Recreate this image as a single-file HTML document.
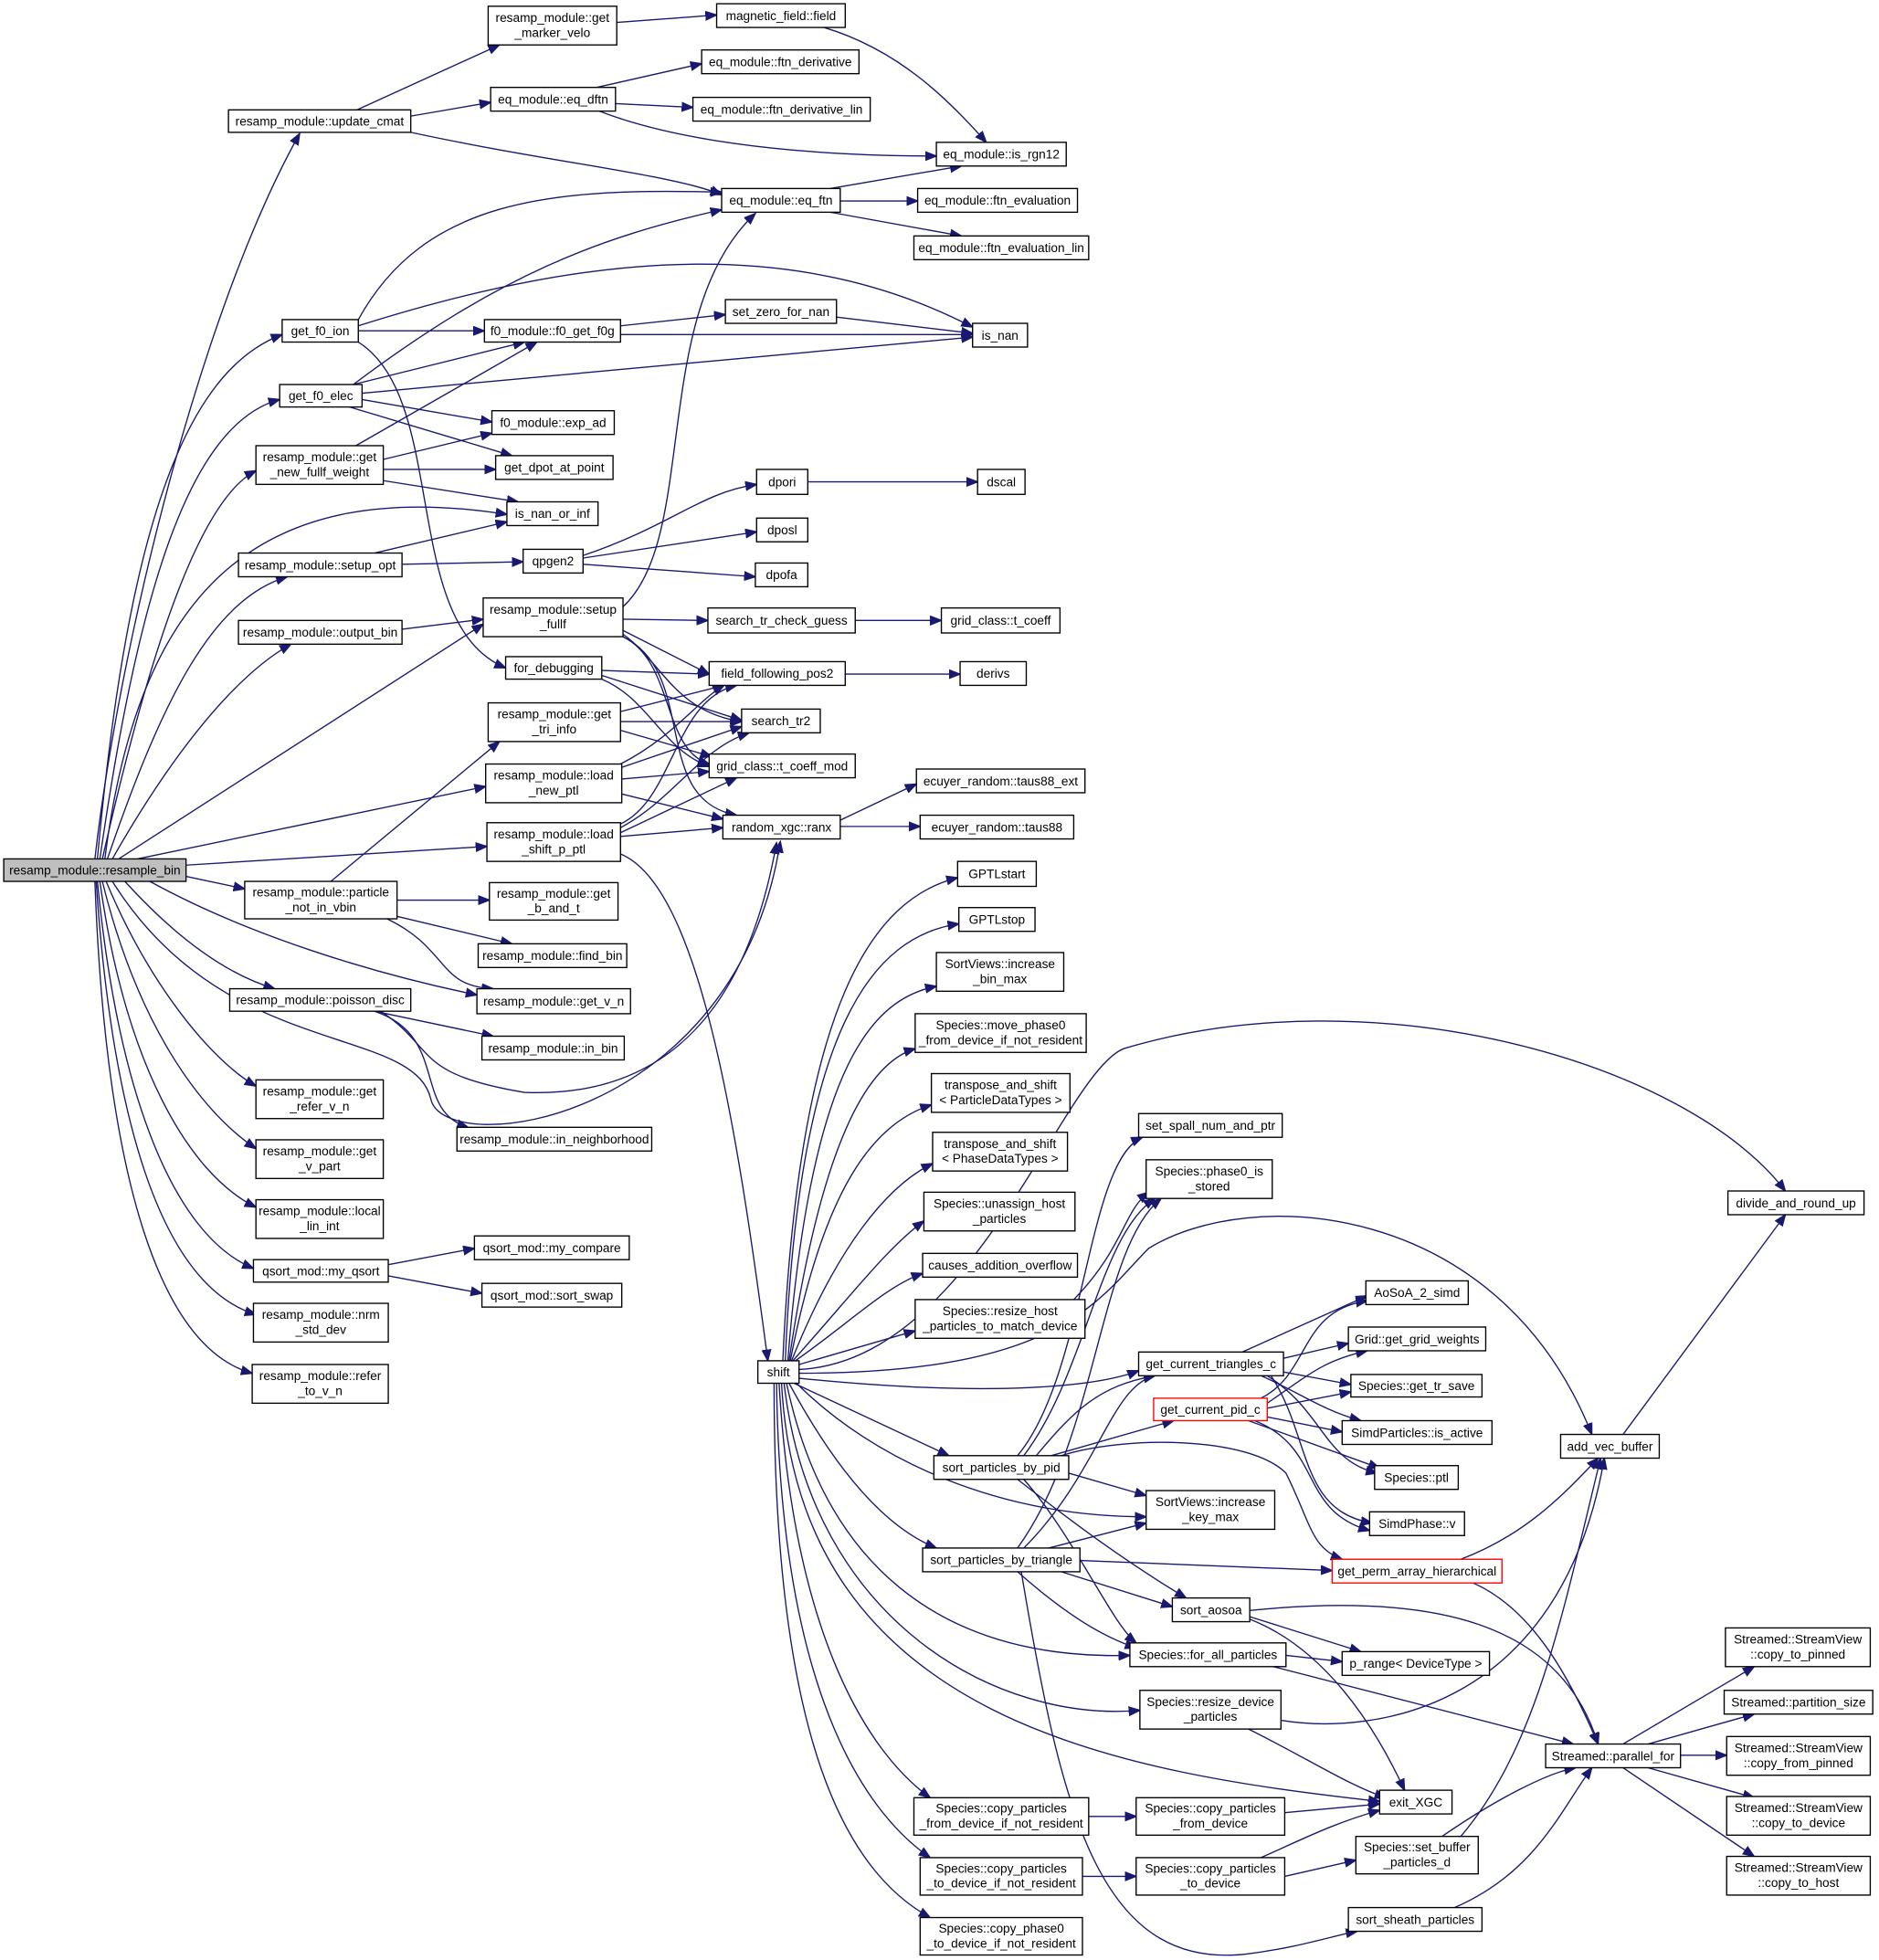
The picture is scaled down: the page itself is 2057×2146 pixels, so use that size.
<!DOCTYPE html>
<html><head><meta charset="utf-8"><style>
html,body{margin:0;padding:0;background:#fff;}
svg{display:block;}
text{font-family:"Liberation Sans",Arial,sans-serif;font-size:10px;fill:#000;text-anchor:middle;}
.n{fill:#fff;stroke:#000;stroke-width:1;}
.r{fill:#fff;stroke:#f00;stroke-width:1;}
.e path{fill:none;stroke:#191970;stroke-width:1;marker-end:url(#a);}
</style></head><body>
<svg width="2057" height="2146" viewBox="0 0 1505 1570" preserveAspectRatio="none" xmlns="http://www.w3.org/2000/svg">
<defs><marker id="a" markerUnits="userSpaceOnUse" markerWidth="10" markerHeight="8" refX="9" refY="4" orient="auto"><path d="M0,0.5 L9,4 L0,7.5 z" fill="#191970" stroke="#191970"/></marker></defs>
<g class="e">
<path d="M76,688 C95,520 160,250 240,107"/>
<path d="M78,688 C100,450 140,300 226,268"/>
<path d="M80,688 C110,480 150,340 224,320"/>
<path d="M82,688 C120,520 160,400 205,377"/>
<path d="M84,688 C110,480 200,380 406,412"/>
<path d="M86,688 C130,560 170,480 230,462"/>
<path d="M90,688 C140,600 190,540 233,516"/>
<path d="M95,688 L387,500"/>
<path d="M110,688 L389,630"/>
<path d="M149,693 L390,678"/>
<path d="M149,702 L196,712"/>
<path d="M120,706 C200,750 300,780 382,797"/>
<path d="M100,706 C140,750 180,780 220,792"/>
<path d="M85,706 C120,790 170,850 205,870"/>
<path d="M82,706 C110,820 160,890 205,920"/>
<path d="M80,706 C100,850 150,940 205,967"/>
<path d="M78,706 C95,880 140,990 203,1016"/>
<path d="M77,706 C90,900 130,1030 205,1053"/>
<path d="M76,706 C85,950 130,1080 202,1100"/>
<path d="M90,706 C180,850 330,820 345,880 C355,930 590,900 625,674"/>
<path d="M286,88 L400,36"/>
<path d="M329,93 L393,82"/>
<path d="M329,106 C440,130 540,140 578,156"/>
<path d="M494,18 L574,12"/>
<path d="M660,22 C720,40 760,80 790,114"/>
<path d="M478,70 L562,51"/>
<path d="M493,83 L555,86"/>
<path d="M480,89 C560,120 680,125 750,125"/>
<path d="M665,151 L770,133"/>
<path d="M673,161 L735,161"/>
<path d="M665,170 L770,189"/>
<path d="M287,256 C340,160 440,150 578,154"/>
<path d="M287,261 C480,200 640,190 779,262"/>
<path d="M287,265 L388,265"/>
<path d="M287,274 C360,320 320,500 405,535"/>
<path d="M283,308 C400,220 480,190 578,168"/>
<path d="M283,308 L420,274"/>
<path d="M290,315 L779,270"/>
<path d="M290,320 L394,338"/>
<path d="M280,326 L410,365"/>
<path d="M285,357 L430,274"/>
<path d="M307,368 L394,347"/>
<path d="M307,376 L397,376"/>
<path d="M307,385 L415,402"/>
<path d="M497,261 L581,252"/>
<path d="M497,268 L779,268"/>
<path d="M670,254 L779,267"/>
<path d="M300,443 L406,418"/>
<path d="M322,452 L419,450"/>
<path d="M467,445 C540,420 560,395 606,388"/>
<path d="M467,447 L606,426"/>
<path d="M467,452 L605,462"/>
<path d="M647,386 L783,386"/>
<path d="M322,504 L387,496"/>
<path d="M499,486 C560,430 520,250 605,171"/>
<path d="M499,496 L567,497"/>
<path d="M499,505 L568,540"/>
<path d="M499,508 C530,530 540,570 594,578"/>
<path d="M499,510 C540,530 530,600 568,612"/>
<path d="M499,510 C560,540 520,640 590,653"/>
<path d="M685,497 L754,497"/>
<path d="M482,537 L568,540"/>
<path d="M482,541 L594,577"/>
<path d="M482,544 C520,560 530,600 568,614"/>
<path d="M677,540 L769,540"/>
<path d="M497,570 L580,549"/>
<path d="M497,578 L594,578"/>
<path d="M497,585 L570,606"/>
<path d="M497,612 C540,590 560,560 580,549"/>
<path d="M497,615 L594,582"/>
<path d="M498,624 L568,618"/>
<path d="M498,636 L579,656"/>
<path d="M497,660 C540,640 540,560 590,549"/>
<path d="M497,663 C540,640 560,600 600,587"/>
<path d="M497,667 L590,623"/>
<path d="M497,670 L579,663"/>
<path d="M497,684 C560,710 590,900 615,1090"/>
<path d="M673,657 L734,628"/>
<path d="M673,662 L737,662"/>
<path d="M265,706 L400,594"/>
<path d="M318,721 L392,721"/>
<path d="M318,734 L410,756"/>
<path d="M310,736 C360,760 350,790 395,792"/>
<path d="M300,810 L395,830"/>
<path d="M300,810 C360,830 330,890 375,903"/>
<path d="M305,810 C350,840 330,860 420,875 C540,880 600,800 622,675"/>
<path d="M311,1013 L380,1000"/>
<path d="M311,1022 L386,1036"/>
<path d="M627,1090 C640,800 700,720 767,703"/>
<path d="M629,1090 C640,820 700,750 768,740"/>
<path d="M631,1090 C650,850 700,800 750,790"/>
<path d="M632,1090 C660,900 700,850 733,840"/>
<path d="M633,1090 C660,950 700,900 746,885"/>
<path d="M634,1090 C670,1000 710,950 747,932"/>
<path d="M635,1090 C680,1040 710,1000 740,978"/>
<path d="M637,1090 C680,1060 710,1030 739,1020"/>
<path d="M640,1093 L733,1066"/>
<path d="M640,1097 C780,1090 850,860 900,840 C1100,780 1350,850 1430,954"/>
<path d="M640,1100 C850,1100 880,1040 920,1000 C1000,950 1200,960 1275,1149"/>
<path d="M640,1104 C800,1120 880,1110 912,1098"/>
<path d="M636,1108 L760,1166"/>
<path d="M632,1108 C660,1160 700,1220 750,1240"/>
<path d="M638,1108 C700,1170 800,1215 918,1215"/>
<path d="M630,1108 C660,1250 750,1330 905,1326"/>
<path d="M628,1108 C650,1300 800,1380 913,1370"/>
<path d="M626,1108 C640,1380 900,1420 1105,1443"/>
<path d="M624,1108 C635,1300 690,1400 745,1440"/>
<path d="M622,1108 C625,1350 690,1450 745,1488"/>
<path d="M620,1108 C620,1400 680,1500 745,1536"/>
<path d="M860,1041 C900,1000 900,970 920,955"/>
<path d="M820,1166 C870,1100 880,990 925,960"/>
<path d="M815,1166 C870,1100 870,930 915,911"/>
<path d="M815,1240 C880,1150 880,1000 930,960"/>
<path d="M830,1166 C860,1130 880,1110 925,1102"/>
<path d="M842,1166 L940,1138"/>
<path d="M856,1180 L918,1198"/>
<path d="M850,1166 C900,1150 1000,1150 1030,1180 C1050,1220 1050,1240 1075,1249"/>
<path d="M815,1185 C860,1220 900,1250 950,1280"/>
<path d="M820,1185 C860,1230 890,1300 910,1316"/>
<path d="M820,1240 C880,1180 890,1110 925,1102"/>
<path d="M840,1240 L918,1220"/>
<path d="M865,1250 L1067,1258"/>
<path d="M850,1259 L939,1287"/>
<path d="M815,1259 C850,1290 880,1310 910,1320"/>
<path d="M818,1259 C850,1450 880,1580 1000,1565 C1040,1560 1070,1550 1087,1547"/>
<path d="M995,1083 L1095,1038"/>
<path d="M1028,1088 L1080,1076"/>
<path d="M1028,1099 L1082,1109"/>
<path d="M1010,1102 C1040,1115 1060,1130 1090,1138"/>
<path d="M1015,1102 C1060,1130 1060,1170 1103,1180"/>
<path d="M1018,1102 C1050,1150 1040,1210 1099,1220"/>
<path d="M1010,1120 C1050,1100 1040,1050 1095,1042"/>
<path d="M1015,1124 C1050,1100 1060,1090 1095,1082"/>
<path d="M1015,1128 L1082,1115"/>
<path d="M1015,1135 L1075,1147"/>
<path d="M1000,1138 L1105,1176"/>
<path d="M1005,1138 C1060,1160 1040,1210 1097,1226"/>
<path d="M1170,1249 C1220,1230 1250,1200 1280,1168"/>
<path d="M1180,1268 C1230,1290 1260,1350 1280,1397"/>
<path d="M1300,1149 L1430,973"/>
<path d="M1001,1295 L1090,1323"/>
<path d="M1001,1290 C1150,1275 1250,1300 1280,1397"/>
<path d="M1001,1297 C1060,1320 1100,1380 1125,1434"/>
<path d="M1030,1326 L1075,1331"/>
<path d="M1020,1335 L1260,1397"/>
<path d="M1026,1378 C1100,1390 1250,1370 1285,1168"/>
<path d="M1000,1385 C1050,1410 1080,1430 1110,1440"/>
<path d="M872,1455 L910,1455"/>
<path d="M1029,1452 L1105,1445"/>
<path d="M867,1503 L910,1503"/>
<path d="M1010,1488 C1050,1470 1070,1460 1105,1450"/>
<path d="M1029,1503 L1086,1490"/>
<path d="M1155,1471 C1200,1440 1240,1420 1262,1416"/>
<path d="M1170,1471 C1230,1400 1250,1300 1282,1168"/>
<path d="M1165,1528 C1230,1500 1250,1450 1275,1416"/>
<path d="M1300,1397 L1405,1335"/>
<path d="M1320,1397 L1405,1373"/>
<path d="M1346,1406 L1383,1406"/>
<path d="M1320,1416 L1405,1440"/>
<path d="M1300,1416 L1405,1487"/>
</g>
<g>
<rect x="3" y="688" width="146" height="18" fill="#bfbfbf" stroke="#000"/><text x="76" y="700.5">resamp_module::resample_bin</text>
<rect class="n" x="183" y="88" width="146" height="18"/><text x="256" y="100.5">resamp_module::update_cmat</text>
<rect class="n" x="391" y="5" width="103" height="31"/><text x="442.5" y="17.5">resamp_module::get</text><text x="442.5" y="29.5">_marker_velo</text>
<rect class="n" x="574" y="3" width="103" height="19"/><text x="625.5" y="16">magnetic_field::field</text>
<rect class="n" x="393" y="70" width="100" height="19"/><text x="443" y="83">eq_module::eq_dftn</text>
<rect class="n" x="562" y="40" width="126" height="19"/><text x="625" y="53">eq_module::ftn_derivative</text>
<rect class="n" x="555" y="78" width="142" height="19"/><text x="626" y="91">eq_module::ftn_derivative_lin</text>
<rect class="n" x="750" y="114" width="104" height="19"/><text x="802" y="127">eq_module::is_rgn12</text>
<rect class="n" x="578" y="151" width="95" height="19"/><text x="625.5" y="164">eq_module::eq_ftn</text>
<rect class="n" x="735" y="151" width="128" height="19"/><text x="799" y="164">eq_module::ftn_evaluation</text>
<rect class="n" x="732" y="189" width="140" height="19"/><text x="802" y="202">eq_module::ftn_evaluation_lin</text>
<rect class="n" x="226" y="256" width="61" height="18"/><text x="256.5" y="268.5">get_f0_ion</text>
<rect class="n" x="388" y="256" width="109" height="18"/><text x="442.5" y="268.5">f0_module::f0_get_f0g</text>
<rect class="n" x="581" y="240" width="89" height="19"/><text x="625.5" y="253">set_zero_for_nan</text>
<rect class="n" x="779" y="259" width="44" height="19"/><text x="801" y="272">is_nan</text>
<rect class="n" x="224" y="308" width="66" height="18"/><text x="257" y="320.5">get_f0_elec</text>
<rect class="n" x="394" y="329" width="98" height="19"/><text x="443" y="342">f0_module::exp_ad</text>
<rect class="n" x="205" y="357" width="102" height="31"/><text x="256" y="369.5">resamp_module::get</text><text x="256" y="381.5">_new_fullf_weight</text>
<rect class="n" x="397" y="365" width="94" height="19"/><text x="444" y="378">get_dpot_at_point</text>
<rect class="n" x="406" y="402" width="73" height="19"/><text x="442.5" y="415">is_nan_or_inf</text>
<rect class="n" x="191" y="443" width="131" height="19"/><text x="256.5" y="456">resamp_module::setup_opt</text>
<rect class="n" x="419" y="440" width="48" height="19"/><text x="443" y="453">qpgen2</text>
<rect class="n" x="606" y="376" width="41" height="20"/><text x="626.5" y="389.5">dpori</text>
<rect class="n" x="783" y="376" width="38" height="20"/><text x="802" y="389.5">dscal</text>
<rect class="n" x="606" y="415" width="41" height="19"/><text x="626.5" y="428">dposl</text>
<rect class="n" x="605" y="451" width="42" height="19"/><text x="626" y="464">dpofa</text>
<rect class="n" x="191" y="497" width="131" height="19"/><text x="256.5" y="510">resamp_module::output_bin</text>
<rect class="n" x="387" y="479" width="112" height="31"/><text x="443" y="491.5">resamp_module::setup</text><text x="443" y="503.5">_fullf</text>
<rect class="n" x="567" y="487" width="118" height="20"/><text x="626" y="500.5">search_tr_check_guess</text>
<rect class="n" x="754" y="487" width="95" height="20"/><text x="801.5" y="500.5">grid_class::t_coeff</text>
<rect class="n" x="405" y="526" width="77" height="18"/><text x="443.5" y="538.5">for_debugging</text>
<rect class="n" x="568" y="530" width="109" height="19"/><text x="622.5" y="543">field_following_pos2</text>
<rect class="n" x="769" y="530" width="53" height="19"/><text x="795.5" y="543">derivs</text>
<rect class="n" x="391" y="563" width="106" height="31"/><text x="444" y="575.5">resamp_module::get</text><text x="444" y="587.5">_tri_info</text>
<rect class="n" x="594" y="568" width="63" height="19"/><text x="625.5" y="581">search_tr2</text>
<rect class="n" x="389" y="612" width="109" height="31"/><text x="443.5" y="624.5">resamp_module::load</text><text x="443.5" y="636.5">_new_ptl</text>
<rect class="n" x="568" y="604" width="117" height="19"/><text x="626.5" y="617">grid_class::t_coeff_mod</text>
<rect class="n" x="734" y="616" width="135" height="19"/><text x="801.5" y="629">ecuyer_random::taus88_ext</text>
<rect class="n" x="737" y="653" width="123" height="19"/><text x="798.5" y="666">ecuyer_random::taus88</text>
<rect class="n" x="390" y="659" width="107" height="31"/><text x="443.5" y="671.5">resamp_module::load</text><text x="443.5" y="683.5">_shift_p_ptl</text>
<rect class="n" x="579" y="653" width="94" height="19"/><text x="626" y="666">random_xgc::ranx</text>
<rect class="n" x="196" y="706" width="122" height="30"/><text x="257" y="718">resamp_module::particle</text><text x="257" y="730">_not_in_vbin</text>
<rect class="n" x="392" y="707" width="103" height="30"/><text x="443.5" y="719">resamp_module::get</text><text x="443.5" y="731">_b_and_t</text>
<rect class="n" x="383" y="756" width="119" height="19"/><text x="442.5" y="769">resamp_module::find_bin</text>
<rect class="n" x="382" y="792" width="123" height="20"/><text x="443.5" y="805.5">resamp_module::get_v_n</text>
<rect class="n" x="184" y="792" width="145" height="18"/><text x="256.5" y="804.5">resamp_module::poisson_disc</text>
<rect class="n" x="386" y="830" width="114" height="19"/><text x="443" y="843">resamp_module::in_bin</text>
<rect class="n" x="366" y="903" width="156" height="19"/><text x="444" y="916">resamp_module::in_neighborhood</text>
<rect class="n" x="205" y="865" width="102" height="31"/><text x="256" y="877.5">resamp_module::get</text><text x="256" y="889.5">_refer_v_n</text>
<rect class="n" x="205" y="913" width="102" height="31"/><text x="256" y="925.5">resamp_module::get</text><text x="256" y="937.5">_v_part</text>
<rect class="n" x="205" y="961" width="102" height="31"/><text x="256" y="973.5">resamp_module::local</text><text x="256" y="985.5">_lin_int</text>
<rect class="n" x="203" y="1009" width="108" height="18"/><text x="257" y="1021.5">qsort_mod::my_qsort</text>
<rect class="n" x="380" y="990" width="124" height="19"/><text x="442" y="1003">qsort_mod::my_compare</text>
<rect class="n" x="386" y="1028" width="112" height="19"/><text x="442" y="1041">qsort_mod::sort_swap</text>
<rect class="n" x="203" y="1044" width="108" height="31"/><text x="257" y="1056.5">resamp_module::nrm</text><text x="257" y="1068.5">_std_dev</text>
<rect class="n" x="202" y="1093" width="109" height="31"/><text x="256.5" y="1105.5">resamp_module::refer</text><text x="256.5" y="1117.5">_to_v_n</text>
<rect class="n" x="607" y="1090" width="33" height="18"/><text x="623.5" y="1102.5">shift</text>
<rect class="n" x="767" y="690" width="63" height="20"/><text x="798.5" y="703.5">GPTLstart</text>
<rect class="n" x="768" y="727" width="61" height="19"/><text x="798.5" y="740">GPTLstop</text>
<rect class="n" x="750" y="763" width="102" height="31"/><text x="801" y="775.5">SortViews::increase</text><text x="801" y="787.5">_bin_max</text>
<rect class="n" x="733" y="812" width="137" height="31"/><text x="801.5" y="824.5">Species::move_phase0</text><text x="801.5" y="836.5">_from_device_if_not_resident</text>
<rect class="n" x="746" y="860" width="111" height="31"/><text x="801.5" y="872.5">transpose_and_shift</text><text x="801.5" y="884.5">&lt; ParticleDataTypes &gt;</text>
<rect class="n" x="747" y="907" width="108" height="31"/><text x="801" y="919.5">transpose_and_shift</text><text x="801" y="931.5">&lt; PhaseDataTypes &gt;</text>
<rect class="n" x="740" y="955" width="121" height="31"/><text x="800.5" y="967.5">Species::unassign_host</text><text x="800.5" y="979.5">_particles</text>
<rect class="n" x="739" y="1004" width="124" height="19"/><text x="801" y="1017">causes_addition_overflow</text>
<rect class="n" x="733" y="1041" width="136" height="31"/><text x="801" y="1053.5">Species::resize_host</text><text x="801" y="1065.5">_particles_to_match_device</text>
<rect class="n" x="912" y="892" width="115" height="19"/><text x="969.5" y="905">set_spall_num_and_ptr</text>
<rect class="n" x="918" y="929" width="101" height="31"/><text x="968.5" y="941.5">Species::phase0_is</text><text x="968.5" y="953.5">_stored</text>
<rect class="n" x="1384" y="954" width="109" height="19"/><text x="1438.5" y="967">divide_and_round_up</text>
<rect class="n" x="1094" y="1026" width="82" height="19"/><text x="1135" y="1039">AoSoA_2_simd</text>
<rect class="n" x="1080" y="1063" width="110" height="19"/><text x="1135" y="1076">Grid::get_grid_weights</text>
<rect class="n" x="1082" y="1101" width="105" height="18"/><text x="1134.5" y="1113.5">Species::get_tr_save</text>
<rect class="n" x="912" y="1083" width="116" height="19"/><text x="970" y="1096">get_current_triangles_c</text>
<rect class="r" x="924" y="1120" width="91" height="18"/><text x="969.5" y="1132.5">get_current_pid_c</text>
<rect class="n" x="1075" y="1138" width="120" height="19"/><text x="1135" y="1151">SimdParticles::is_active</text>
<rect class="n" x="1250" y="1149" width="79" height="19"/><text x="1289.5" y="1162">add_vec_buffer</text>
<rect class="n" x="1101" y="1174" width="67" height="19"/><text x="1134.5" y="1187">Species::ptl</text>
<rect class="n" x="748" y="1166" width="108" height="19"/><text x="802" y="1179">sort_particles_by_pid</text>
<rect class="n" x="918" y="1194" width="103" height="31"/><text x="969.5" y="1206.5">SortViews::increase</text><text x="969.5" y="1218.5">_key_max</text>
<rect class="n" x="1097" y="1211" width="76" height="19"/><text x="1135" y="1224">SimdPhase::v</text>
<rect class="n" x="739" y="1240" width="126" height="19"/><text x="802" y="1253">sort_particles_by_triangle</text>
<rect class="r" x="1067" y="1249" width="136" height="19"/><text x="1135" y="1262">get_perm_array_hierarchical</text>
<rect class="n" x="939" y="1280" width="62" height="19"/><text x="970" y="1293">sort_aosoa</text>
<rect class="n" x="1382" y="1304" width="116" height="31"/><text x="1440" y="1316.5">Streamed::StreamView</text><text x="1440" y="1328.5">::copy_to_pinned</text>
<rect class="n" x="905" y="1316" width="125" height="19"/><text x="967.5" y="1329">Species::for_all_particles</text>
<rect class="n" x="1075" y="1323" width="118" height="19"/><text x="1134" y="1336">p_range&lt; DeviceType &gt;</text>
<rect class="n" x="1381" y="1354" width="119" height="19"/><text x="1440.5" y="1367">Streamed::partition_size</text>
<rect class="n" x="913" y="1354" width="113" height="31"/><text x="969.5" y="1366.5">Species::resize_device</text><text x="969.5" y="1378.5">_particles</text>
<rect class="n" x="1238" y="1397" width="108" height="19"/><text x="1292" y="1410">Streamed::parallel_for</text>
<rect class="n" x="1383" y="1391" width="115" height="31"/><text x="1440.5" y="1403.5">Streamed::StreamView</text><text x="1440.5" y="1415.5">::copy_from_pinned</text>
<rect class="n" x="1105" y="1434" width="58" height="19"/><text x="1134" y="1447">exit_XGC</text>
<rect class="n" x="732" y="1440" width="140" height="30"/><text x="802" y="1452">Species::copy_particles</text><text x="802" y="1464">_from_device_if_not_resident</text>
<rect class="n" x="910" y="1440" width="119" height="30"/><text x="969.5" y="1452">Species::copy_particles</text><text x="969.5" y="1464">_from_device</text>
<rect class="n" x="1383" y="1439" width="115" height="31"/><text x="1440.5" y="1451.5">Streamed::StreamView</text><text x="1440.5" y="1463.5">::copy_to_device</text>
<rect class="n" x="1086" y="1471" width="98" height="30"/><text x="1135" y="1483">Species::set_buffer</text><text x="1135" y="1495">_particles_d</text>
<rect class="n" x="737" y="1488" width="130" height="30"/><text x="802" y="1500">Species::copy_particles</text><text x="802" y="1512">_to_device_if_not_resident</text>
<rect class="n" x="910" y="1488" width="119" height="30"/><text x="969.5" y="1500">Species::copy_particles</text><text x="969.5" y="1512">_to_device</text>
<rect class="n" x="1383" y="1487" width="115" height="31"/><text x="1440.5" y="1499.5">Streamed::StreamView</text><text x="1440.5" y="1511.5">::copy_to_host</text>
<rect class="n" x="1080" y="1528" width="107" height="19"/><text x="1133.5" y="1541">sort_sheath_particles</text>
<rect class="n" x="737" y="1536" width="130" height="30"/><text x="802" y="1548">Species::copy_phase0</text><text x="802" y="1560">_to_device_if_not_resident</text>
</g>
</svg>
</body></html>
